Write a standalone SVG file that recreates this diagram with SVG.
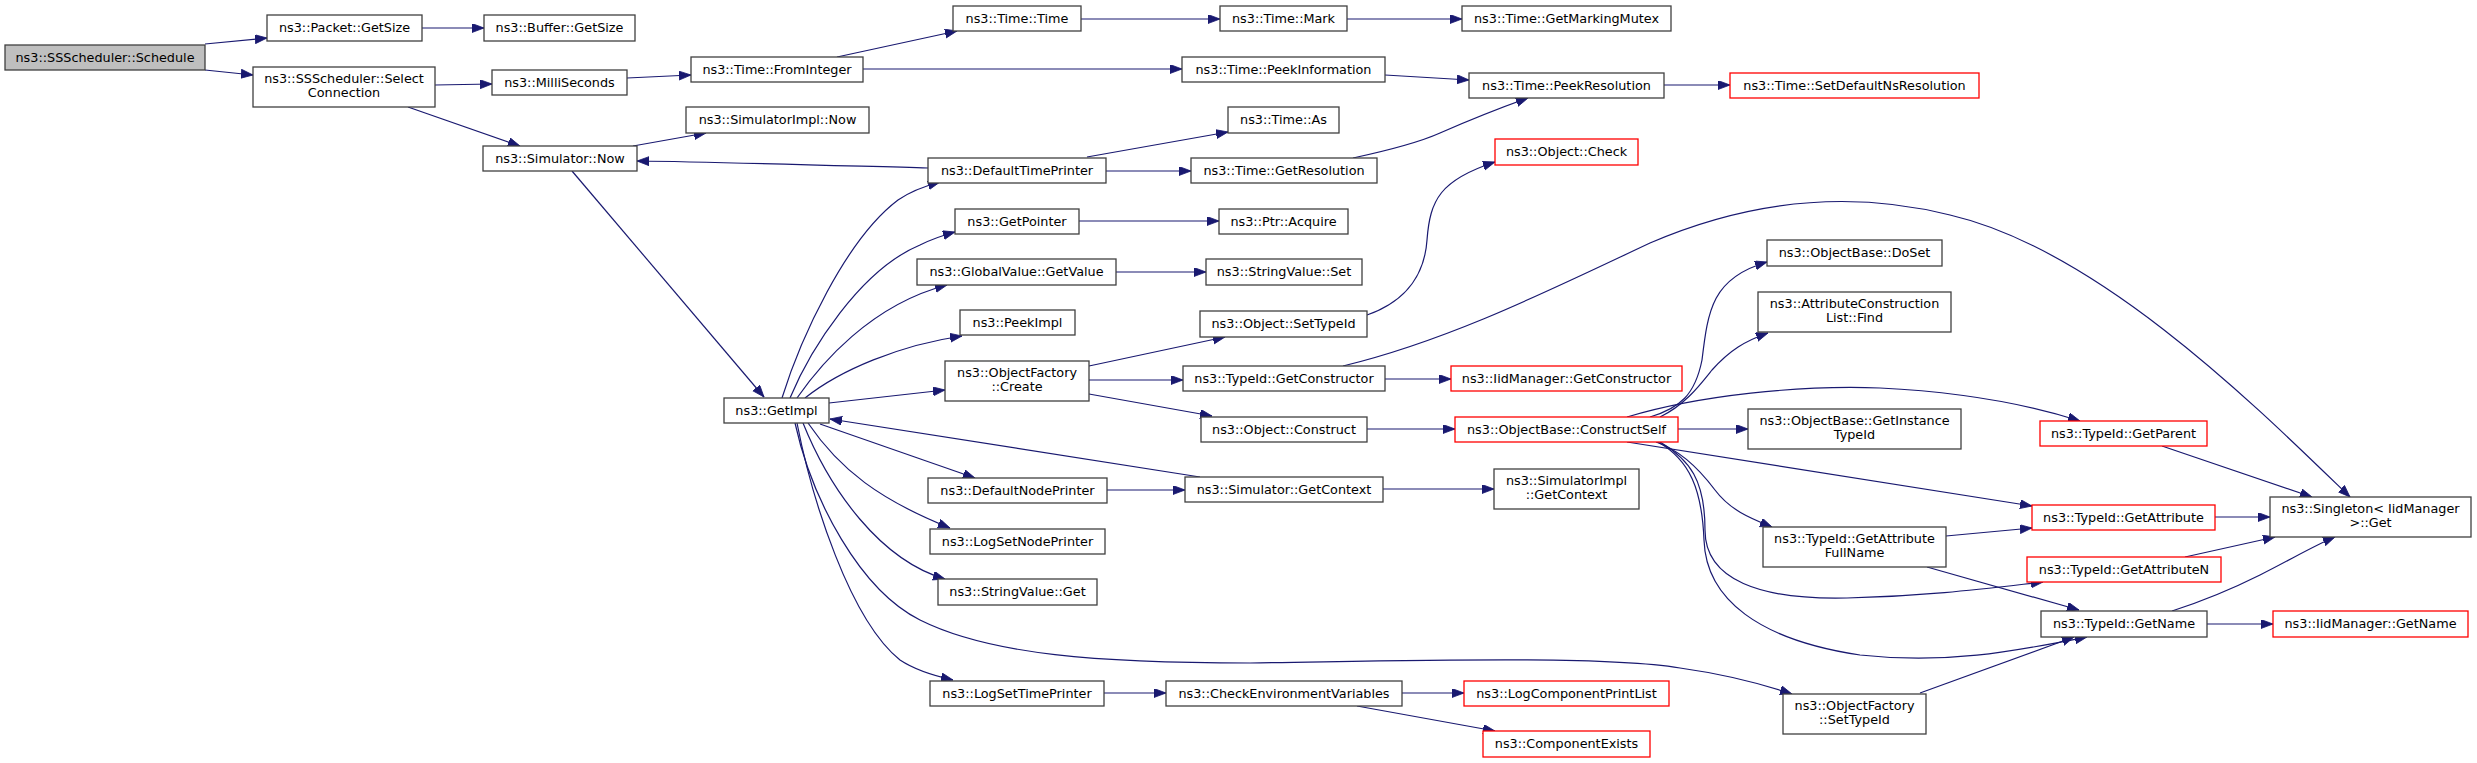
<svg xmlns="http://www.w3.org/2000/svg" width="2477" height="763" viewBox="0 0 2477 763">
<style>
.node rect{fill:#ffffff;stroke:#404040;stroke-width:1.3}
.node.red rect{stroke:#ff0000}
.node.cur rect{fill:#bfbfbf}
.node text{font-family:"DejaVu Sans","Liberation Sans",sans-serif;font-size:12.8px;text-anchor:middle;fill:#000}
.edges path{fill:none;stroke:#191970;stroke-width:1.2;marker-end:url(#arr)}
</style>
<defs>
<marker id="arr" markerUnits="userSpaceOnUse" markerWidth="13" markerHeight="10" refX="12" refY="4.5" orient="auto" viewBox="0 0 13 10">
<path d="M0,0 L12,4.5 L0,9 z" fill="#191970" stroke="#191970" stroke-width="0.8"/>
</marker>
</defs>
<rect width="2477" height="763" fill="#ffffff"/>
<g class="edges" id="edges">
<path d="M205,44 L267,38"/>
<path d="M205,70 L253,75"/>
<path d="M422,28 L484,28"/>
<path d="M435,85 L492,84"/>
<path d="M408,107 L520,146"/>
<path d="M627,78 L691,75"/>
<path d="M633,146 L706,133"/>
<path d="M928,168 C850,166 720,162 637,161"/>
<path d="M572,171 L764,397"/>
<path d="M782,398 C800,340 845,240 898,200 C911,191 925,186 940,182"/>
<path d="M790,398 C810,350 860,270 920,245 C932,239 944,235 955,232"/>
<path d="M797,398 C820,365 870,305 947,285"/>
<path d="M805,398 C840,370 900,345 962,336"/>
<path d="M829,403 L945,390"/>
<path d="M820,424 L975,478"/>
<path d="M1200,477 L830,419"/>
<path d="M808,423 C840,470 880,500 950,528"/>
<path d="M803,423 C830,490 880,560 945,579"/>
<path d="M795,423 C812,500 860,590 920,620 C990,655 1100,663 1250,663 C1400,661 1600,655 1680,668 C1730,675 1765,685 1792,694"/>
<path d="M797,423 C812,500 850,620 900,660 C915,670 935,676 953,680"/>
<path d="M1087,157 L1228,132"/>
<path d="M1106,171 L1191,171"/>
<path d="M837,57 L957,31"/>
<path d="M863,69 L1182,69"/>
<path d="M1081,19 L1220,19"/>
<path d="M1347,19 L1462,19"/>
<path d="M1385,75 L1469,80"/>
<path d="M1353,158 C1390,150 1420,142 1440,133 C1470,120 1500,108 1528,98"/>
<path d="M1664,85 L1730,85"/>
<path d="M1079,221 L1219,221"/>
<path d="M1116,272 L1206,272"/>
<path d="M1367,315 C1410,300 1425,270 1427,240 C1430,200 1440,180 1495,162"/>
<path d="M1089,366 L1225,337"/>
<path d="M1089,380 L1183,380"/>
<path d="M1089,394 L1212,416"/>
<path d="M1385,379 L1451,379"/>
<path d="M1343,366 C1450,340 1550,290 1650,243 C1750,200 1850,190 1950,215 C2100,250 2260,410 2350,497"/>
<path d="M1367,429 L1455,429"/>
<path d="M1650,417 C1680,408 1695,395 1702,360 C1708,310 1712,278 1767,262"/>
<path d="M1660,417 C1685,405 1700,385 1712,370 C1730,350 1745,341 1768,333"/>
<path d="M1627,417 C1700,395 1800,385 1880,388 C1960,392 2030,405 2080,421"/>
<path d="M1678,429 L1748,429"/>
<path d="M1627,442 L2032,506"/>
<path d="M1656,442 C1680,450 1700,470 1715,490 C1730,510 1750,518 1772,527"/>
<path d="M1660,442 C1690,460 1705,480 1705,530 C1705,580 1760,600 1847,598 C1930,596 1990,588 2043,582"/>
<path d="M1658,442 C1690,460 1702,490 1704,540 C1706,600 1760,640 1860,655 C1950,665 2020,650 2087,637"/>
<path d="M1946,536 L2032,528"/>
<path d="M1927,567 L2079,610"/>
<path d="M1920,693 L2074,637"/>
<path d="M2162,446 L2312,497"/>
<path d="M2215,517 L2270,517"/>
<path d="M2185,557 L2275,537"/>
<path d="M2172,611 C2200,602 2230,590 2260,575 C2290,560 2315,545 2335,537"/>
<path d="M2207,624 L2273,624"/>
<path d="M1383,489 L1494,489"/>
<path d="M1107,490 L1185,490"/>
<path d="M1104,693 L1166,693"/>
<path d="M1402,693 L1464,693"/>
<path d="M1357,706 L1495,731"/>
</g>
<g id="n_schedule" class="node cur"><rect x="5" y="45" width="200" height="25"/><text x="105" y="61.8">ns3::SSScheduler::Schedule</text></g>
<g id="n_packet" class="node"><rect x="267" y="15" width="155" height="26"/><text x="344.5" y="32.3">ns3::Packet::GetSize</text></g>
<g id="n_select" class="node"><rect x="253" y="67" width="182" height="40"/><text x="344" y="83.3">ns3::SSScheduler::Select</text><text x="344" y="97.3">Connection</text></g>
<g id="n_buffer" class="node"><rect x="484" y="15" width="151" height="26"/><text x="559.5" y="32.3">ns3::Buffer::GetSize</text></g>
<g id="n_milli" class="node"><rect x="492" y="70" width="135" height="25"/><text x="559.5" y="86.8">ns3::MilliSeconds</text></g>
<g id="n_fromint" class="node"><rect x="691" y="57" width="172" height="25"/><text x="777" y="73.8">ns3::Time::FromInteger</text></g>
<g id="n_simimplnow" class="node"><rect x="686" y="107" width="183" height="26"/><text x="777.5" y="124.3">ns3::SimulatorImpl::Now</text></g>
<g id="n_simnow" class="node"><rect x="483" y="146" width="154" height="25"/><text x="560" y="162.8">ns3::Simulator::Now</text></g>
<g id="n_getimpl" class="node"><rect x="724" y="398" width="105" height="25"/><text x="776.5" y="414.8">ns3::GetImpl</text></g>
<g id="n_timetime" class="node"><rect x="953" y="6" width="128" height="25"/><text x="1017" y="22.8">ns3::Time::Time</text></g>
<g id="n_mark" class="node"><rect x="1220" y="6" width="127" height="25"/><text x="1283.5" y="22.8">ns3::Time::Mark</text></g>
<g id="n_peekinfo" class="node"><rect x="1182" y="57" width="203" height="25"/><text x="1283.5" y="73.8">ns3::Time::PeekInformation</text></g>
<g id="n_as" class="node"><rect x="1228" y="107" width="111" height="26"/><text x="1283.5" y="124.3">ns3::Time::As</text></g>
<g id="n_dtp" class="node"><rect x="928" y="158" width="178" height="25"/><text x="1017" y="174.8">ns3::DefaultTimePrinter</text></g>
<g id="n_getres" class="node"><rect x="1191" y="158" width="186" height="25"/><text x="1284" y="174.8">ns3::Time::GetResolution</text></g>
<g id="n_getptr" class="node"><rect x="955" y="209" width="124" height="25"/><text x="1017" y="225.8">ns3::GetPointer</text></g>
<g id="n_acquire" class="node"><rect x="1219" y="209" width="129" height="25"/><text x="1283.5" y="225.8">ns3::Ptr::Acquire</text></g>
<g id="n_gvget" class="node"><rect x="917" y="259" width="199" height="26"/><text x="1016.5" y="276.3">ns3::GlobalValue::GetValue</text></g>
<g id="n_svset" class="node"><rect x="1206" y="259" width="156" height="26"/><text x="1284" y="276.3">ns3::StringValue::Set</text></g>
<g id="n_peekimpl" class="node"><rect x="960" y="310" width="115" height="25"/><text x="1017.5" y="326.8">ns3::PeekImpl</text></g>
<g id="n_settypeid" class="node"><rect x="1200" y="311" width="167" height="26"/><text x="1283.5" y="328.3">ns3::Object::SetTypeId</text></g>
<g id="n_ofcreate" class="node"><rect x="945" y="361" width="144" height="40"/><text x="1017" y="377.3">ns3::ObjectFactory</text><text x="1017" y="391.3">::Create</text></g>
<g id="n_getctor" class="node"><rect x="1183" y="366" width="202" height="25"/><text x="1284" y="382.8">ns3::TypeId::GetConstructor</text></g>
<g id="n_mutex" class="node"><rect x="1462" y="6" width="209" height="25"/><text x="1566.5" y="22.8">ns3::Time::GetMarkingMutex</text></g>
<g id="n_peekres" class="node"><rect x="1469" y="73" width="195" height="25"/><text x="1566.5" y="89.8">ns3::Time::PeekResolution</text></g>
<g id="n_check" class="node red"><rect x="1495" y="139" width="143" height="26"/><text x="1566.5" y="156.3">ns3::Object::Check</text></g>
<g id="n_iidctor" class="node red"><rect x="1451" y="366" width="231" height="25"/><text x="1566.5" y="382.8">ns3::IidManager::GetConstructor</text></g>
<g id="n_setdefns" class="node red"><rect x="1730" y="73" width="249" height="25"/><text x="1854.5" y="89.8">ns3::Time::SetDefaultNsResolution</text></g>
<g id="n_doset" class="node"><rect x="1767" y="240" width="175" height="26"/><text x="1854.5" y="257.3">ns3::ObjectBase::DoSet</text></g>
<g id="n_acfind" class="node"><rect x="1758" y="292" width="193" height="40"/><text x="1854.5" y="308.3">ns3::AttributeConstruction</text><text x="1854.5" y="322.3">List::Find</text></g>
<g id="n_dnp" class="node"><rect x="928" y="478" width="179" height="25"/><text x="1017.5" y="494.8">ns3::DefaultNodePrinter</text></g>
<g id="n_lsnp" class="node"><rect x="930" y="529" width="175" height="25"/><text x="1017.5" y="545.8">ns3::LogSetNodePrinter</text></g>
<g id="n_svget" class="node"><rect x="938" y="579" width="159" height="26"/><text x="1017.5" y="596.3">ns3::StringValue::Get</text></g>
<g id="n_lstp" class="node"><rect x="930" y="681" width="174" height="25"/><text x="1017" y="697.8">ns3::LogSetTimePrinter</text></g>
<g id="n_simctx" class="node"><rect x="1185" y="477" width="198" height="25"/><text x="1284" y="493.8">ns3::Simulator::GetContext</text></g>
<g id="n_construct" class="node"><rect x="1201" y="417" width="166" height="25"/><text x="1284" y="433.8">ns3::Object::Construct</text></g>
<g id="n_cev" class="node"><rect x="1166" y="681" width="236" height="25"/><text x="1284" y="697.8">ns3::CheckEnvironmentVariables</text></g>
<g id="n_cself" class="node red"><rect x="1455" y="417" width="223" height="25"/><text x="1566.5" y="433.8">ns3::ObjectBase::ConstructSelf</text></g>
<g id="n_simimplctx" class="node"><rect x="1494" y="469" width="145" height="40"/><text x="1566.5" y="485.3">ns3::SimulatorImpl</text><text x="1566.5" y="499.3">::GetContext</text></g>
<g id="n_lcpl" class="node red"><rect x="1464" y="681" width="205" height="25"/><text x="1566.5" y="697.8">ns3::LogComponentPrintList</text></g>
<g id="n_cexists" class="node red"><rect x="1483" y="731" width="167" height="26"/><text x="1566.5" y="748.3">ns3::ComponentExists</text></g>
<g id="n_insttid" class="node"><rect x="1748" y="409" width="213" height="40"/><text x="1854.5" y="425.3">ns3::ObjectBase::GetInstance</text><text x="1854.5" y="439.3">TypeId</text></g>
<g id="n_attrfull" class="node"><rect x="1763" y="527" width="183" height="40"/><text x="1854.5" y="543.3">ns3::TypeId::GetAttribute</text><text x="1854.5" y="557.3">FullName</text></g>
<g id="n_ofsettid" class="node"><rect x="1783" y="694" width="143" height="40"/><text x="1854.5" y="710.3">ns3::ObjectFactory</text><text x="1854.5" y="724.3">::SetTypeId</text></g>
<g id="n_getparent" class="node red"><rect x="2040" y="421" width="167" height="25"/><text x="2123.5" y="437.8">ns3::TypeId::GetParent</text></g>
<g id="n_getattr" class="node red"><rect x="2032" y="505" width="183" height="25"/><text x="2123.5" y="521.8">ns3::TypeId::GetAttribute</text></g>
<g id="n_getattrn" class="node red"><rect x="2027" y="557" width="194" height="25"/><text x="2124" y="573.8">ns3::TypeId::GetAttributeN</text></g>
<g id="n_getname" class="node"><rect x="2041" y="611" width="166" height="26"/><text x="2124" y="628.3">ns3::TypeId::GetName</text></g>
<g id="n_singleton" class="node"><rect x="2270" y="497" width="201" height="40"/><text x="2370.5" y="513.3">ns3::Singleton&lt; IidManager</text><text x="2370.5" y="527.3">&gt;::Get</text></g>
<g id="n_iidname" class="node red"><rect x="2273" y="611" width="195" height="26"/><text x="2370.5" y="628.3">ns3::IidManager::GetName</text></g>
</svg>
